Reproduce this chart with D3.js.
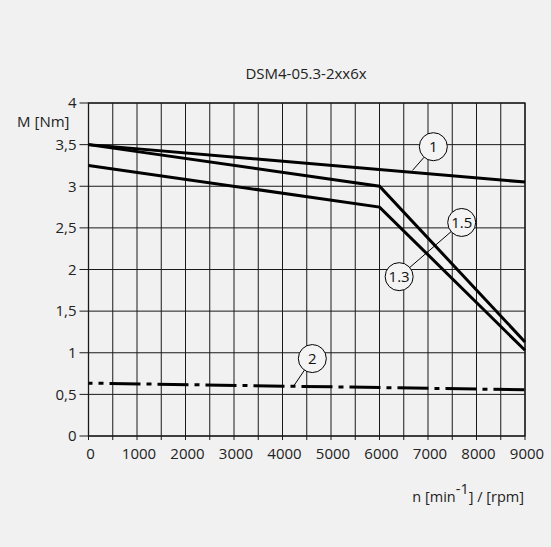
<!DOCTYPE html>
<html>
<head>
<meta charset="utf-8">
<script src="https://cdn.jsdelivr.net/npm/d3@7.9.0/dist/d3.min.js"></script>
<style>
  html, body { margin: 0; padding: 0; background: #f1f1f1; }
  svg { display: block; font-family: "Open Sans", "DejaVu Sans", sans-serif; }
</style>
</head>
<body>
<svg id="chart" width="551" height="547"></svg>
<script>
// chart values
const title = 'DSM4-05.3-2xx6x';
const xTickValues = [0, 1000, 2000, 3000, 4000, 5000, 6000, 7000, 8000, 9000];
const yTickValues = [0, 0.5, 1, 1.5, 2, 2.5, 3, 3.5, 4];
const gridSpeeds = d3.range(0, 9001, 500);

const speed2pt = [0, 9000];
const speed3pt = [0, 6000, 9000];
const torque1 = [3.5, 3.05];
const torque15 = [3.5, 3.0, 1.13];
const torque13 = [3.25, 2.75, 1.03];
const torque2 = [0.635, 0.555];

// callouts: circle centre and where the leader points
const callouts = [
  { label: '1', x: 7110, y: 3.475, tx: 6680, ty: 3.19 },
  { label: '1.5', x: 7695, y: 2.565, tx: null, ty: null },
  { label: '1.3', x: 6405, y: 1.914, tx: 7695, ty: 2.565 },
  { label: '2', x: 4615, y: 0.93, tx: 4230, ty: 0.6 }
];

const svg = d3.select('#chart');
const plotLeft = 88.5, plotRight = 525, plotTop = 103, plotBottom = 436;

const x = d3.scaleLinear().domain([0, 9000]).range([plotLeft, plotRight]);
const y = d3.scaleLinear().domain([0, 4]).range([plotBottom, plotTop]);
const comma = d3.formatLocale({ decimal: ',', thousands: '', grouping: [3], currency: ['', ''] }).format('');

// grid
const grid = svg.append('g').attr('stroke', '#1a1a1a').attr('stroke-width', 1);
gridSpeeds.forEach(s => {
  grid.append('line').attr('x1', x(s)).attr('x2', x(s)).attr('y1', plotTop).attr('y2', plotBottom + 4);
});
yTickValues.forEach(v => {
  grid.append('line').attr('x1', plotLeft - 9).attr('x2', plotRight).attr('y1', y(v)).attr('y2', y(v));
});
svg.append('rect')
  .attr('x', plotLeft).attr('y', plotTop)
  .attr('width', plotRight - plotLeft).attr('height', plotBottom - plotTop)
  .attr('fill', 'none').attr('stroke', '#1a1a1a').attr('stroke-width', 1.3);

// axes labels
const yAxis = svg.append('g')
  .attr('transform', `translate(${plotLeft},0)`)
  .call(d3.axisLeft(y).tickValues(yTickValues).tickFormat(comma).tickSize(0).tickPadding(12));
const xAxis = svg.append('g')
  .attr('transform', `translate(0,${plotBottom})`)
  .call(d3.axisBottom(x).tickValues(xTickValues).tickFormat(d => d).tickSize(0).tickPadding(12));
[xAxis, yAxis].forEach(a => {
  a.select('.domain').remove();
  a.selectAll('text').attr('font-size', 15).attr('fill', '#222')
    .attr('font-family', '"Open Sans", sans-serif');
});
xAxis.selectAll('text').attr('dx', 1.5);

svg.append('text')
  .attr('x', 306).attr('y', 78.5)
  .attr('text-anchor', 'middle').attr('font-size', 15).attr('fill', '#222')
  .text(title);

svg.append('text')
  .attr('x', 69.5).attr('y', 126.5)
  .attr('text-anchor', 'end').attr('font-size', 15).attr('fill', '#222')
  .text('M [Nm]');

const xlab = svg.append('text')
  .attr('x', 524).attr('y', 501.5)
  .attr('text-anchor', 'end').attr('font-size', 14.5).attr('fill', '#222');
xlab.append('tspan').text('n [min');
xlab.append('tspan').attr('dy', -8).text('-1');
xlab.append('tspan').attr('dy', 8).text('] / [rpm]');

// curves
const line = d3.line().x(d => x(d[0])).y(d => y(d[1]));
const curves = [
  { pts: d3.zip(speed2pt, torque1) },
  { pts: d3.zip(speed3pt, torque15) },
  { pts: d3.zip(speed3pt, torque13) }
];
curves.forEach(c => {
  svg.append('path')
    .attr('d', line(c.pts))
    .attr('fill', 'none').attr('stroke', '#000').attr('stroke-width', 3)
    .attr('stroke-linejoin', 'miter');
});
svg.append('path')
  .attr('d', line(d3.zip(speed2pt, torque2)))
  .attr('fill', 'none').attr('stroke', '#000').attr('stroke-width', 3)
  .attr('stroke-dasharray', '31,6,5,6').attr('stroke-dashoffset', 27);

// callouts
const r = 14;
callouts.forEach(c => {
  const cx = x(c.x), cy = y(c.y);
  if (c.tx !== null) {
    const tx = x(c.tx), ty = y(c.ty);
    const len = Math.hypot(tx - cx, ty - cy);
    svg.append('line')
      .attr('x1', cx + (tx - cx) / len * r).attr('y1', cy + (ty - cy) / len * r)
      .attr('x2', tx).attr('y2', ty)
      .attr('stroke', '#000').attr('stroke-width', 1);
  }
});
callouts.forEach(c => {
  const cx = x(c.x), cy = y(c.y);
  svg.append('circle').attr('cx', cx).attr('cy', cy).attr('r', r)
    .attr('fill', '#f4f4f4').attr('stroke', '#000').attr('stroke-width', 1);
  svg.append('text').attr('x', cx).attr('y', cy + 5.5)
    .attr('text-anchor', 'middle').attr('font-size', 15).attr('fill', '#111')
    .text(c.label);
});
</script>
</body>
</html>
